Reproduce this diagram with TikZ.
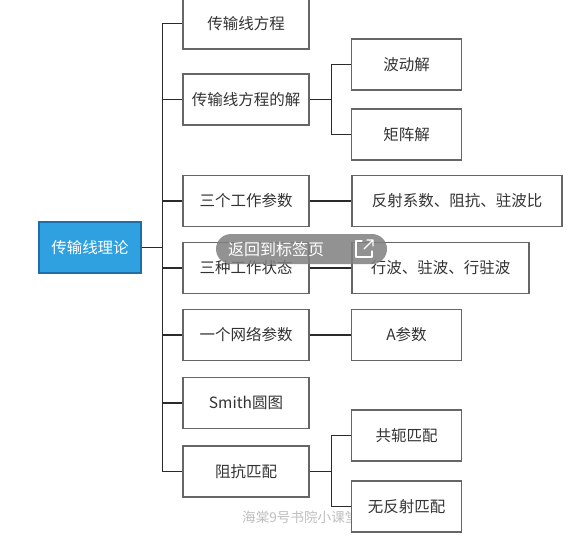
\documentclass[tikz,border=0pt]{standalone}
\usepackage{fontspec}
\usetikzlibrary{calc}
\newfontfamily\cjk{Noto Sans CJK SC}
\definecolor{rootfill}{HTML}{2FA0E0}
\definecolor{rootdraw}{HTML}{1F6EA8}
\definecolor{boxdraw}{HTML}{666666}
\definecolor{txt}{HTML}{333333}
\definecolor{linec}{HTML}{2A2A2A}
\tikzset{
  base/.style={draw=boxdraw, line width=1.2pt, fill=white, minimum height=51pt, inner sep=2pt, font=\cjk\fontsize{15.5}{18}\selectfont, text=txt},
  lvla/.style={base, minimum width=126pt},
  lvlb/.style={base, minimum width=110pt},
  rootbox/.style={draw=rootdraw, line width=1.2pt, fill=rootfill, minimum width=102pt, minimum height=51pt, font=\cjk\fontsize{15.5}{18}\selectfont, text=white},
  conn/.style={draw=linec, line width=1.6pt},
}
\begin{document}
\begin{tikzpicture}[x=1pt,y=-1pt]
\useasboundingbox (0,0) rectangle (571,536);
\fill[white] (0,0) rectangle (571,536);
% watermark
\node[anchor=west, inner sep=0, text=black!25, font=\cjk\fontsize{13.6}{16}\selectfont] (wm) at (242,517) {海棠9号书院小课堂};
% root
\node[rootbox] (root) at (90,247.5) {传输线理论};
% level 1
\node[lvla] (a1) at (246,23.5) {传输线方程};
\node[lvla] (a2) at (246,99.5) {传输线方程的解};
\node[lvla] (a3) at (246,201) {三个工作参数};
\node[lvla] (a4) at (246,268) {三种工作状态};
\node[lvla] (a5) at (246,335) {一个网络参数};
\node[lvla] (a6) at (246,403) {Smith圆图};
\node[lvla] (a7) at (246,471.5) {阻抗匹配};
% level 2
\node[lvlb] (b1) at (406.5,64.5) {波动解};
\node[lvlb] (b2) at (406.5,134.5) {矩阵解};
\node[base, minimum width=210pt] (b3) at (457,201) {反射系数、阻抗、驻波比};
\node[base, minimum width=177pt] (b4) at (440.5,268) {行波、驻波、行驻波};
\node[lvlb] (b5) at (406.5,335) {A参数};
\node[lvlb] (b6) at (406.5,435.5) {共轭匹配};
\node[lvlb] (b7) at (406.5,506.5) {无反射匹配};
% connectors
\foreach \n in {a1,a2,a3,a4,a5,a6,a7}
  \draw[conn] (root.east) -- ++(21,0) |- (\n.west);
\foreach \n in {b1,b2}
  \draw[conn] (a2.east) -- ++(22,0) |- (\n.west);
\draw[conn] (a3.east) -- (b3.west);
\draw[conn] (a4.east) -- (b4.west);
\draw[conn] (a5.east) -- (b5.west);
\foreach \n in {b6,b7}
  \draw[conn] (a7.east) -- ++(22,0) |- (\n.west);
% overlay pill
\node[fill=black!50, fill opacity=0.85, rounded corners=15pt, minimum width=171pt, minimum height=30pt, inner sep=0] (pill) at (301.5,249) {};
\node[anchor=west, text=white, inner sep=0, font=\cjk\fontsize{16}{18}\selectfont] (pilltxt) at (228,249) {返回到标签页};
\coordinate (ic) at (364,249);
\draw[white, line width=1.1pt, line cap=round, line join=round]
  ($(ic)+(-2,-8)$) -- ($(ic)+(-8,-8)$) -- ($(ic)+(-8,8)$) -- ($(ic)+(8,8)$) -- ($(ic)+(8,2)$);
\draw[white, line width=1.1pt, line cap=round, line join=round]
  ($(ic)+(0,0)$) -- ($(ic)+(9,-9)$)
  ($(ic)+(3,-9)$) -- ($(ic)+(9,-9)$) -- ($(ic)+(9,-3)$);
\end{tikzpicture}
\end{document}
